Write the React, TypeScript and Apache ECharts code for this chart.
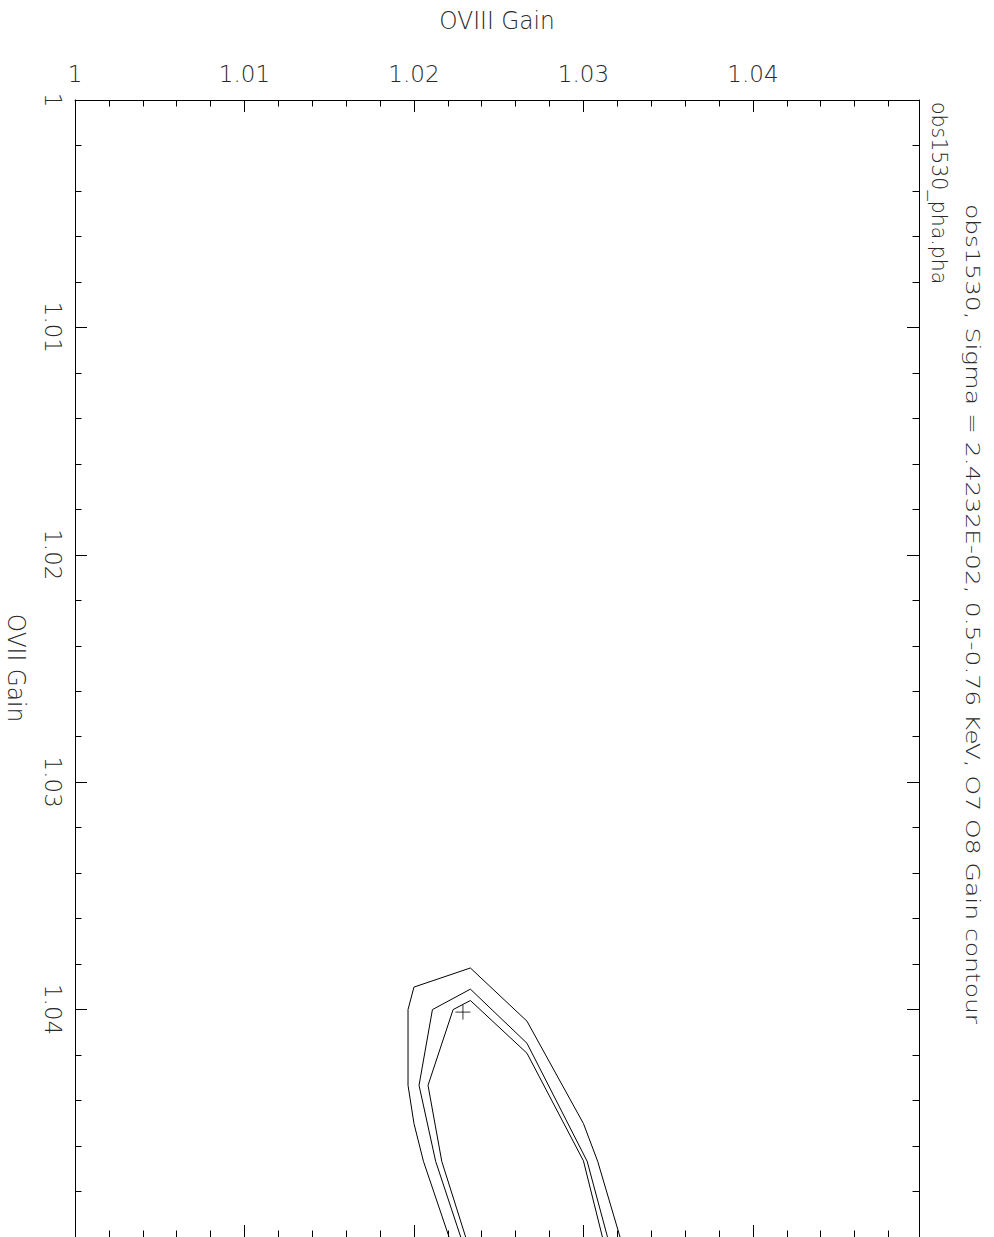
import React, { useEffect, useRef } from "react";
import * as echarts from "echarts";

// Axis ranges (OVIII Gain across the top, OVII Gain down the left)
const xRange = [1, 1.0498];
const yRange = [1, 1.05];
const tickInterval = 0.01;

// Contour lines (OVIII gain, OVII gain), drawn from lower-left around to lower-right
const outerContour: [number, number][] = [
  [1.02207, 1.05],
  [1.02056, 1.04667],
  [1.02, 1.04501],
  [1.01965, 1.04333],
  [1.01965, 1.04],
  [1.02, 1.03901],
  [1.02333, 1.03817],
  [1.02667, 1.04051],
  [1.03, 1.04501],
  [1.03084, 1.04667],
  [1.03216, 1.05],
];
const middleContour: [number, number][] = [
  [1.02276, 1.05],
  [1.02128, 1.04667],
  [1.0203, 1.04333],
  [1.02109, 1.04],
  [1.02333, 1.0391],
  [1.02667, 1.04148],
  [1.03022, 1.04667],
  [1.03142, 1.05],
];
const innerContour: [number, number][] = [
  [1.02305, 1.05],
  [1.02164, 1.04667],
  [1.02083, 1.04333],
  [1.02231, 1.04],
  [1.02333, 1.0396],
  [1.02667, 1.04192],
  [1.03, 1.04665],
  [1.03112, 1.05],
];
const bestFit: [number, number][] = [[1.02289, 1.04011]];

const xName = "OVIII Gain";
const yName = "OVII Gain";
const titleLine1 = "obs1530, Sigma = 2.4232E-02, 0.5-0.76 KeV, O7 O8 Gain contour";
const titleLine2 = "obs1530_pha.pha";

const FONT = "'DejaVu Sans', sans-serif";
const TEXT_COLOR = "#2a2a2a";

export default function App() {
  const ref = useRef<HTMLDivElement>(null);
  useEffect(() => {
    if (!ref.current) return;
    const chart = echarts.init(ref.current, undefined, { renderer: "svg" });
    const line = { color: "#000", width: 1 };
    const baseAxis = {
      type: "value" as const,
      interval: tickInterval,
      axisLine: { show: true, onZero: false, lineStyle: line },
      axisTick: { show: true, inside: true, length: 12, lineStyle: line },
      minorTick: { show: true, splitNumber: 5, length: 6.5, lineStyle: line },
      splitLine: { show: false },
      minorSplitLine: { show: false },
    };
    const lineSeries = (data: [number, number][]) => ({
      type: "line" as const,
      data,
      symbol: "none",
      lineStyle: { color: "#000", width: 1 },
      xAxisIndex: 0,
      yAxisIndex: 0,
      silent: true,
    });
    const textStyle = (text: string, size: number, align: string) => ({
      text,
      fontSize: size,
      fontFamily: FONT,
      fontWeight: 200,
      fill: TEXT_COLOR,
      align,
      verticalAlign: "middle",
    });
    chart.setOption({
      animation: false,
      backgroundColor: "#fff",
      grid: { left: 75, top: 100, width: 844, height: 1137, containLabel: false },
      xAxis: [
        {
          ...baseAxis,
          position: "top",
          min: xRange[0],
          max: xRange[1],
          axisLabel: {
            show: true,
            showMaxLabel: false,
            fontSize: 23,
            fontFamily: FONT,
            fontWeight: 200,
            color: TEXT_COLOR,
            margin: 15,
          },
        },
        {
          ...baseAxis,
          position: "bottom",
          min: xRange[0],
          max: xRange[1],
          axisLabel: { show: false },
        },
      ],
      yAxis: [
        {
          ...baseAxis,
          position: "left",
          inverse: true,
          min: yRange[0],
          max: yRange[1],
          axisLabel: {
            show: true,
            showMaxLabel: false,
            rotate: -90,
            fontSize: 23,
            fontFamily: FONT,
            fontWeight: 200,
            color: TEXT_COLOR,
            margin: 11,
          },
        },
        {
          ...baseAxis,
          position: "right",
          inverse: true,
          min: yRange[0],
          max: yRange[1],
          axisLabel: { show: false },
        },
      ],
      series: [
        lineSeries(outerContour),
        lineSeries(middleContour),
        lineSeries(innerContour),
        {
          type: "scatter",
          data: bestFit,
          symbol: "path://M-1,0L1,0M0,-1L0,1",
          symbolSize: 15,
          itemStyle: { color: "rgba(0,0,0,0)", borderColor: "#000", borderWidth: 1 },
          xAxisIndex: 0,
          yAxisIndex: 0,
          silent: true,
        },
      ],
      graphic: [
        {
          type: "text",
          x: 497,
          y: 21,
          scaleX: 0.97,
          style: textStyle(xName, 24, "center"),
        },
        {
          type: "text",
          x: 16,
          y: 668,
          rotation: -Math.PI / 2,
          scaleX: 0.97,
          style: textStyle(yName, 24, "center"),
        },
        {
          type: "text",
          x: 973,
          y: 614,
          rotation: -Math.PI / 2,
          scaleX: 1.25,
          style: textStyle(titleLine1, 20, "center"),
        },
        {
          type: "text",
          x: 939,
          y: 102,
          rotation: -Math.PI / 2,
          style: textStyle(titleLine2, 20.5, "left"),
        },
      ],
    });
    return () => chart.dispose();
  }, []);
  return (
    <div
      ref={ref}
      style={{ position: "fixed", left: 0, top: 0, width: 994, height: 1250, background: "#fff" }}
    />
  );
}
